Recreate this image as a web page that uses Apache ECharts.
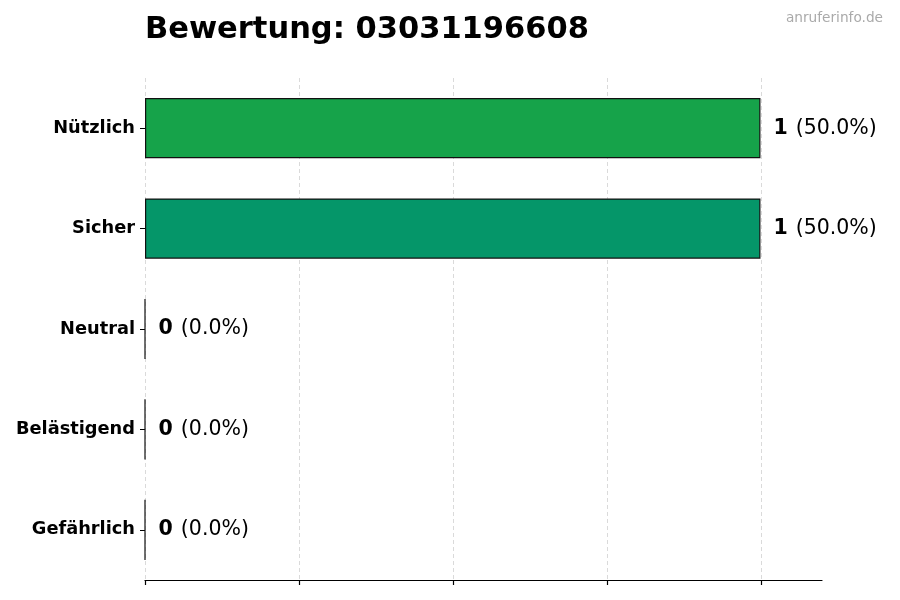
<!DOCTYPE html>
<html>
<head>
<meta charset="utf-8">
<script src="https://cdn.jsdelivr.net/npm/echarts@6/dist/echarts.min.js"></script>
<style>
  html, body { margin: 0; padding: 0; background: #fff; }
  #main { width: 900px; height: 600px; }
</style>
</head>
<body>
<div id="main"></div>
<script>
// Bewertungen, von oben nach unten
var categories = ['Nützlich', 'Sicher', 'Neutral', 'Belästigend', 'Gefährlich'];
var counts = [1, 1, 0, 0, 0];
var percents = [50.0, 50.0, 0.0, 0.0, 0.0];
var barColors = ['#16a34a', '#059669', '#6b7280', '#f97316', '#dc2626'];
var gridTicks = [0, 0.25, 0.5, 0.75, 1.0];

var myChart = echarts.init(document.getElementById('main'));

var font = 'DejaVu Sans';

var option = {
    backgroundColor: '#fff',
    animation: false,
    title: {
        text: 'Bewertung: 03031196608',
        left: 145,
        top: 15,
        padding: 0,
        textStyle: {
            fontFamily: font,
            fontSize: 30.5,
            fontWeight: 'bold',
            color: '#000'
        }
    },
    graphic: [{
        type: 'text',
        right: 17,
        top: 11,
        style: {
            text: 'anruferinfo.de',
            fontFamily: font,
            fontSize: 13.7,
            fill: '#aaaaaa'
        }
    }],
    grid: [
        { left: 145, right: 78, top: 78, bottom: 20 },
        // nur fuer Gitterlinien und Striche (0 .. 1)
        { left: 145, width: 616, top: 78, bottom: 20 }
    ],
    xAxis: [
        {
            gridIndex: 0,
            type: 'value',
            min: 0,
            max: 1.1,
            axisLine: { show: true, lineStyle: { color: '#000', width: 1.2 } },
            axisTick: { show: false },
            axisLabel: { show: false },
            splitLine: { show: false }
        },
        {
            gridIndex: 1,
            type: 'value',
            min: 0,
            max: gridTicks[gridTicks.length - 1],
            interval: 0.25,
            axisLine: { show: false },
            axisTick: { show: true, length: 5, lineStyle: { color: '#000', width: 1.2 } },
            axisLabel: { show: false },
            splitLine: { show: true, lineStyle: { color: '#d0d0d0', type: [4, 3], width: 0.8 } }
        }
    ],
    yAxis: [
        {
            gridIndex: 0,
            type: 'category',
            data: categories,
            inverse: true,
            axisLine: { show: false },
            axisTick: { show: true, alignWithLabel: true, length: 5, lineStyle: { color: '#000' } },
            axisLabel: {
                margin: 10,
                fontFamily: font,
                fontSize: 17.8,
                fontWeight: 'bold',
                color: '#000'
            },
            splitLine: { show: false }
        },
        {
            gridIndex: 1,
            type: 'category',
            data: categories,
            inverse: true,
            show: false
        }
    ],
    series: [
        {
            type: 'bar',
            xAxisIndex: 0,
            yAxisIndex: 0,
            barWidth: '60%',
            z: 3,
            data: counts.map(function (v, i) {
                return {
                    value: v,
                    itemStyle: { color: barColors[i], borderColor: '#111', borderWidth: 1.2 }
                };
            }),
            label: {
                show: true,
                position: 'right',
                distance: 13,
                formatter: function (p) {
                    return '{b|' + counts[p.dataIndex] + '}{n|(' + percents[p.dataIndex].toFixed(1) + '%)}';
                },
                rich: {
                    b: { fontFamily: font, fontSize: 20.5, fontWeight: 'bold', color: '#000', padding: [0, 8, 0, 0] },
                    n: { fontFamily: font, fontSize: 20.5, color: '#000' }
                }
            }
        }
    ]
};

myChart.setOption(option);
</script>
</body>
</html>
